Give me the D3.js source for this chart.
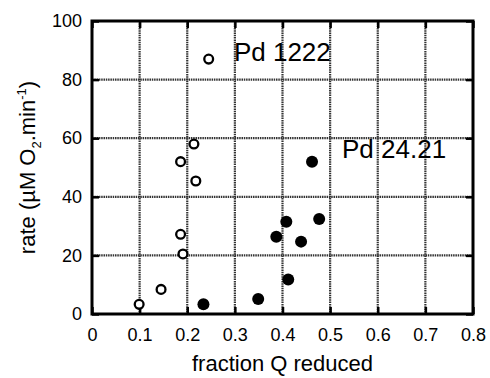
<!DOCTYPE html>
<html><head><meta charset="utf-8">
<script src="https://cdn.jsdelivr.net/npm/d3@7"></script>
<style>body{margin:0;background:#fff}text{font-family:"Liberation Sans",Arial,sans-serif;fill:#000}</style>
</head><body><svg id="c" width="490" height="378"></svg>
<script>
const openX = [0.245, 0.214, 0.186, 0.218, 0.186, 0.191, 0.145, 0.099];
const openY = [87, 58, 52, 45.4, 27.2, 20.5, 8.4, 3.3];
const filledX = [0.234, 0.349, 0.412, 0.387, 0.408, 0.439, 0.477, 0.462];
const filledY = [3.3, 5.1, 11.8, 26.4, 31.5, 24.7, 32.4, 52];
const xTicks = [0, 0.1, 0.2, 0.3, 0.4, 0.5, 0.6, 0.7, 0.8];
const yTicks = [0, 20, 40, 60, 80, 100];
const labels = [{t:"Pd 1222", x:0.298, y:86.4}, {t:"Pd 24.21", x:0.525, y:53.1}];

const L=92,R=473,T=21,B=314;
const svg=d3.select("#c");
const x=d3.scaleLinear().domain([0,0.8]).range([L,R]);
const y=d3.scaleLinear().domain([0,100]).range([B,T]);

// grid
const g=svg.append("g");
g.selectAll(".vx").data(xTicks.slice(1,-1)).join("line")
 .attr("x1",d=>x(d)).attr("x2",d=>x(d)).attr("y1",T).attr("y2",B)
 .attr("stroke","#333").attr("stroke-width",2.2).attr("stroke-dasharray","1.5 0.8");
g.selectAll(".hy").data(yTicks.slice(1,-1)).join("line")
 .attr("y1",d=>y(d)).attr("y2",d=>y(d)).attr("x1",L).attr("x2",R)
 .attr("stroke","#333").attr("stroke-width",2.2).attr("stroke-dasharray","1.5 0.8");

// axes with inward ticks
const fmtX=d=>d===0?"0":d3.format(".1f")(d);
const ax=svg.append("g").attr("transform",`translate(0,${B})`)
 .call(d3.axisBottom(x).tickValues(xTicks).tickSize(-7).tickPadding(14).tickFormat(fmtX));
const ay=svg.append("g").attr("transform",`translate(${L},0)`)
 .call(d3.axisLeft(y).tickValues(yTicks).tickSize(-7).tickPadding(10));
const at=svg.append("g").attr("transform",`translate(0,${T})`)
 .call(d3.axisTop(x).tickValues(xTicks).tickSize(-7).tickFormat(""));
const ar=svg.append("g").attr("transform",`translate(${R},0)`)
 .call(d3.axisRight(y).tickValues(yTicks).tickSize(-7).tickFormat(""));
[ax,ay,at,ar].forEach(a=>{
  a.select(".domain").remove();
  a.selectAll(".tick line").attr("stroke","#000").attr("stroke-width",2.5);
  a.selectAll("text").style("font-size","18px").style("font-family","Liberation Sans, Arial, sans-serif").attr("fill","#000");
});
ax.selectAll("text").attr("dy","0.71em");
// frame
svg.append("rect").attr("x",L).attr("y",T).attr("width",R-L).attr("height",B-T)
 .attr("fill","none").attr("stroke","#000").attr("stroke-width",3);

// points
svg.append("g").selectAll("circle").data(openX.map((d,i)=>[d,openY[i]])).join("circle")
 .attr("cx",d=>x(d[0])).attr("cy",d=>y(d[1])).attr("r",4.4)
 .attr("fill","#fff").attr("stroke","#000").attr("stroke-width",2.3);
svg.append("g").selectAll("circle").data(filledX.map((d,i)=>[d,filledY[i]])).join("circle")
 .attr("cx",d=>x(d[0])).attr("cy",d=>y(d[1])).attr("r",6).attr("fill","#000");

// labels
svg.append("g").selectAll("text").data(labels).join("text")
 .attr("x",d=>x(d.x)).attr("y",d=>y(d.y))
 .style("font-size","26px").text(d=>d.t);

// axis titles
svg.append("text").attr("x",(L+R)/2).attr("y",371).attr("text-anchor","middle")
 .style("font-size","22px").text("fraction Q reduced");
const yt=svg.append("text").attr("transform",`translate(35,${(T+B)/2}) rotate(-90)`)
 .attr("text-anchor","middle").style("font-size","22px");
yt.append("tspan").text("rate (µM O");
yt.append("tspan").attr("dy",6).style("font-size","13px").text("2");
yt.append("tspan").attr("dy",-6).text(".min");
yt.append("tspan").attr("dy",-9).style("font-size","13px").text("-1");
yt.append("tspan").attr("dy",9).text(")");
</script></body></html>
